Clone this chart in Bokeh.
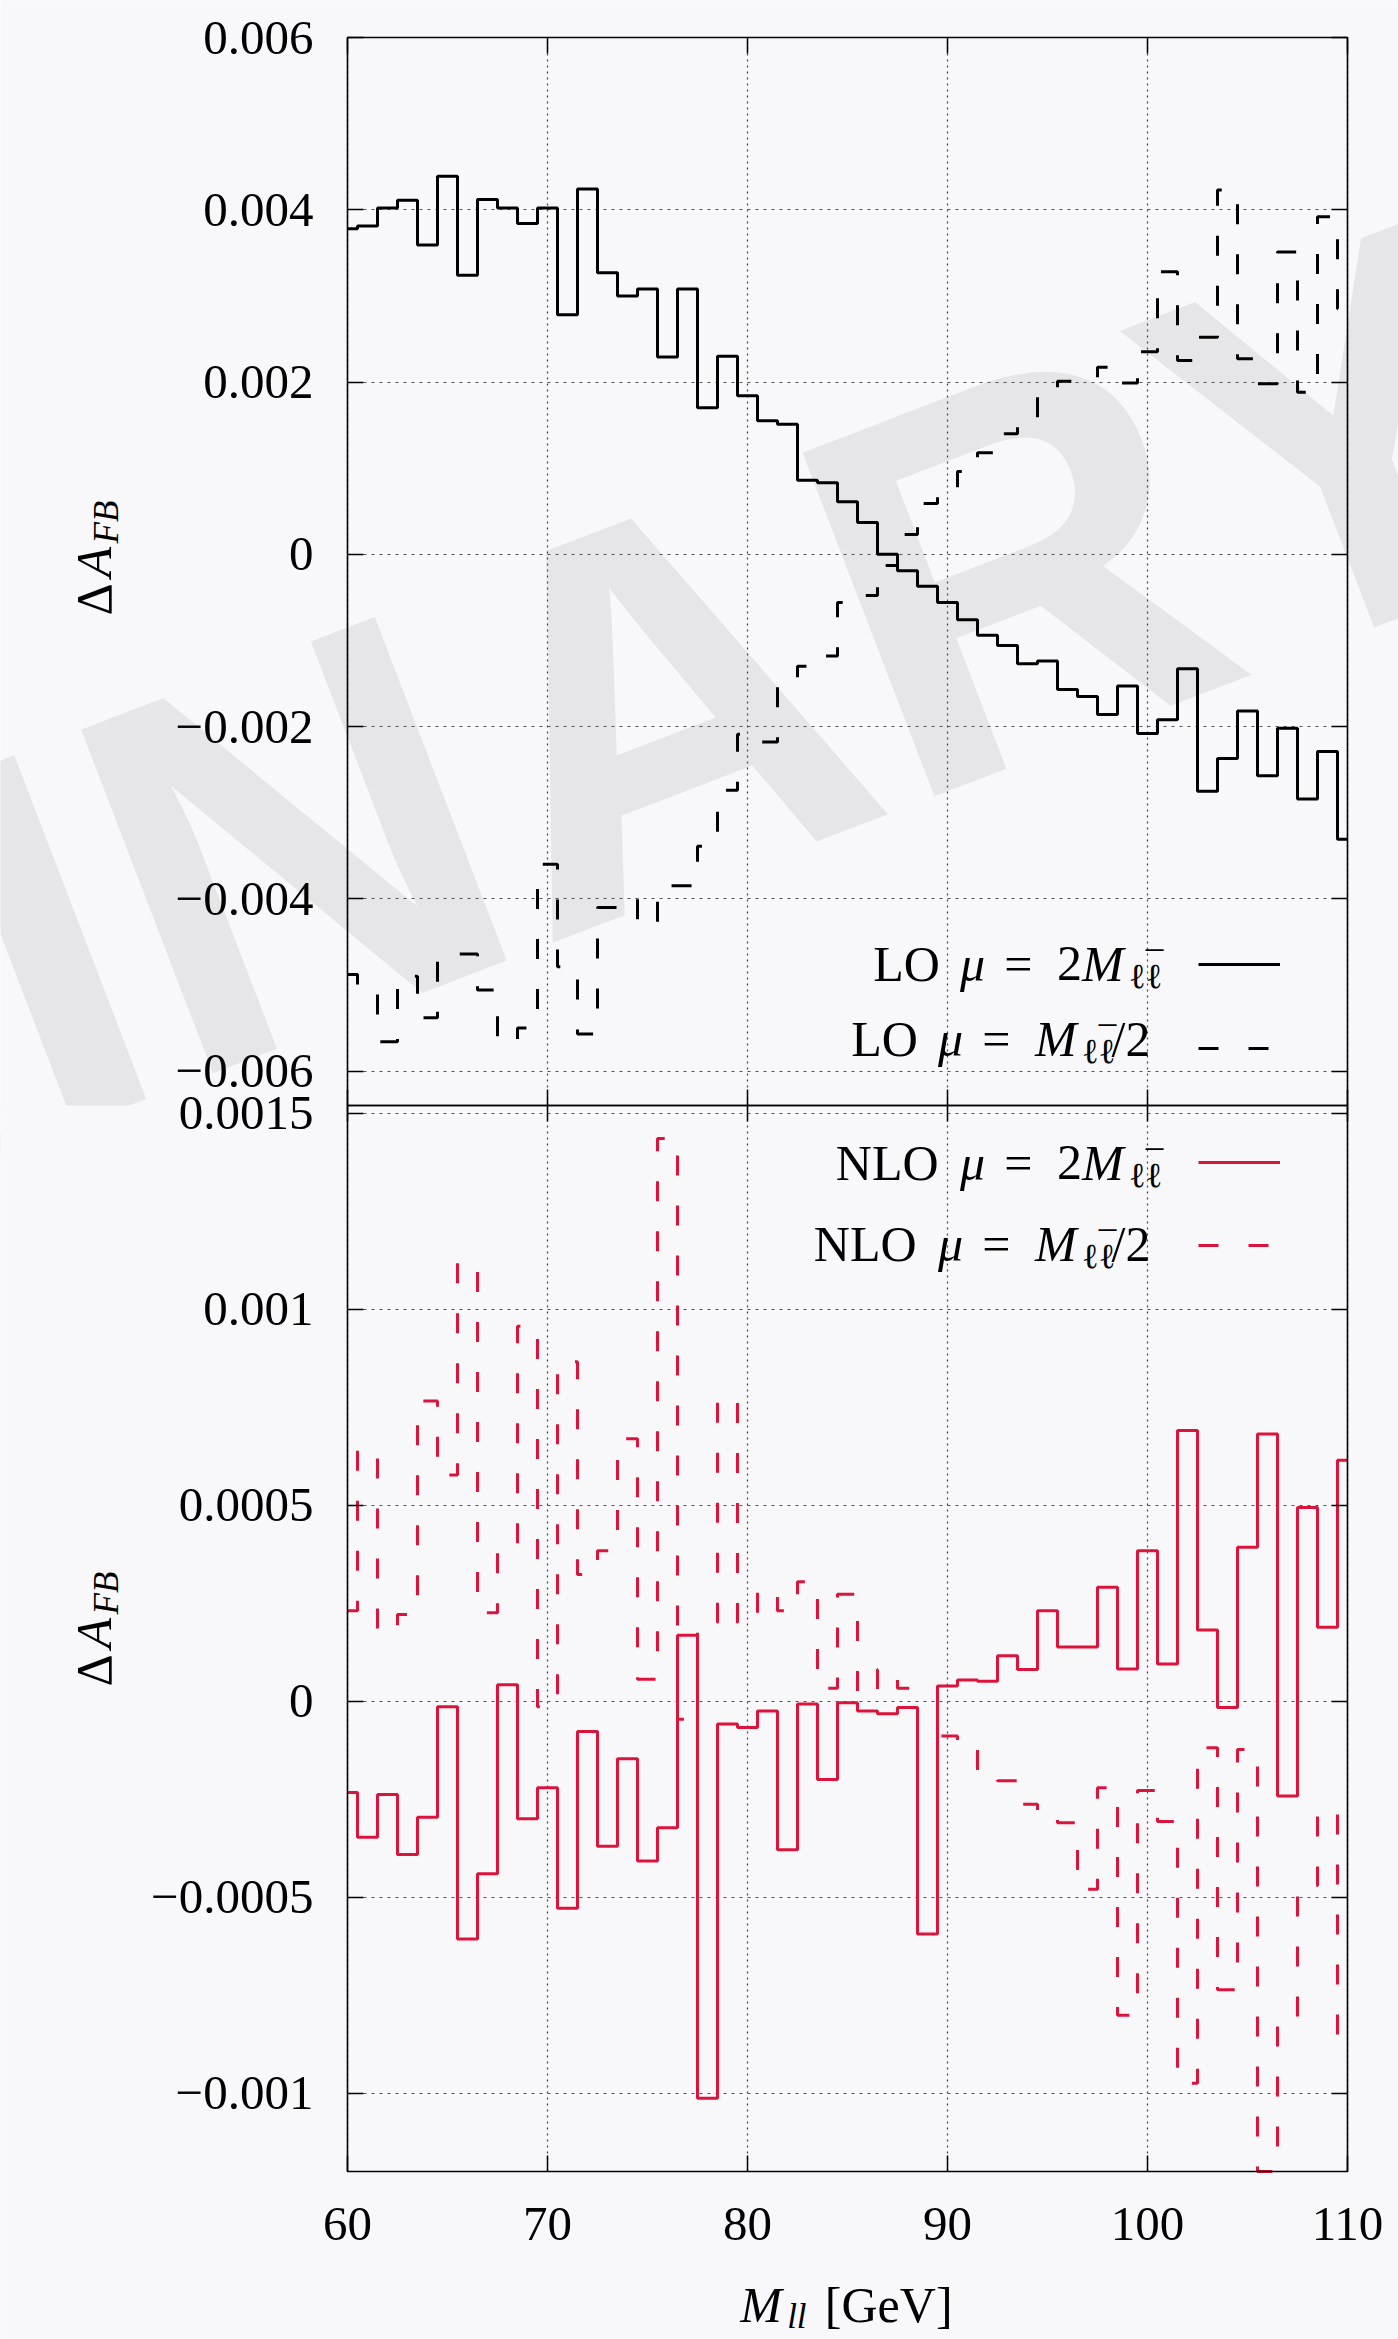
import math

from bokeh.plotting import figure
from bokeh.models import (Range1d, LinearAxis, FixedTicker, CustomJSTickFormatter,
                          CustomLabelingPolicy, BoxAnnotation, Label, Legend, LegendItem)
from bokeh.embed import file_html
from bokeh.resources import INLINE

# dilepton invariant mass points (GeV), one per histogram step
mll = list(range(60, 111))

# LO forward-backward asymmetry shift, scale mu = 2 M_ll
lo_mu2m = [0.00378, 0.00381, 0.00402, 0.00411, 0.00359, 0.00439, 0.00324, 0.00412, 0.00402, 0.00384,
           0.00402, 0.00278, 0.00424, 0.00327, 0.00300, 0.00308, 0.00229, 0.00308, 0.00170, 0.00230,
           0.00184, 0.00155, 0.00151, 0.00086, 0.00083, 0.00061, 0.00037, 0.00000, -0.00019, -0.00037,
           -0.00056, -0.00076, -0.00094, -0.00106, -0.00127, -0.00124, -0.00157, -0.00165, -0.00186, -0.00153,
           -0.00208, -0.00192, -0.00133, -0.00275, -0.00237, -0.00182, -0.00257, -0.00202, -0.00284, -0.00229,
           -0.00331]

# LO, scale mu = M_ll / 2
lo_muhalf = [-0.00488, -0.00507, -0.00566, -0.00490, -0.00538, -0.00464, -0.00464, -0.00506, -0.00567, -0.00550,
             -0.00360, -0.00479, -0.00557, -0.00410, -0.00400, -0.00431, -0.00385, -0.00385, -0.00339, -0.00274,
             -0.00209, -0.00218, -0.00143, -0.00130, -0.00118, -0.00056, -0.00048, -0.00013, 0.00023, 0.00059,
             0.00073, 0.00096, 0.00118, 0.00140, 0.00156, 0.00183, 0.00201, 0.00204, 0.00217, 0.00199,
             0.00235, 0.00328, 0.00225, 0.00252, 0.00423, 0.00227, 0.00198, 0.00351, 0.00188, 0.00392,
             0.00285]

# NLO, scale mu = 2 M_ll
nlo_mu2m = [-0.000233, -0.000347, -0.000238, -0.000391, -0.000296, -0.000014, -0.000607, -0.000440, 0.000042, -0.000300,
            -0.000221, -0.000528, -0.000077, -0.000370, -0.000147, -0.000408, -0.000323, 0.000168, -0.001013, -0.000058,
            -0.000067, -0.000025, -0.000379, -0.000007, -0.000200, -0.000004, -0.000025, -0.000032, -0.000016, -0.000594,
            0.000039, 0.000054, 0.000051, 0.000116, 0.000081, 0.000231, 0.000138, 0.000138, 0.000291, 0.000082,
            0.000384, 0.000095, 0.000691, 0.000182, -0.000016, 0.000393, 0.000682, -0.000242, 0.000494, 0.000189,
            0.000615]

# NLO, scale mu = M_ll / 2 (the 106 GeV point sits at the bottom edge of the range)
nlo_muhalf = [0.000231, 0.000642, 0.000177, 0.000221, 0.000766, 0.000577, 0.001119, 0.000226, 0.000391, 0.000957,
              -0.000014, 0.000866, 0.000323, 0.000384, 0.000670, 0.000056, 0.001436, -0.000046, 0.000200, 0.000774,
              0.000200, 0.000284, 0.000231, 0.000305, 0.000033, 0.000273, 0.000016, 0.000081, 0.000033, -0.000077,
              -0.000089, -0.000116, -0.000189, -0.000203, -0.000263, -0.000290, -0.000310, -0.000480, -0.000221, -0.000801,
              -0.000228, -0.000307, -0.000975, -0.000119, -0.000736, -0.000123, -0.001200, -0.000822, -0.000470, -0.000279,
              -0.000875]

x_ticks = [60, 70, 80, 90, 100, 110]
top_ticks = [-0.006, -0.004, -0.002, 0.0, 0.002, 0.004, 0.006]
bot_ticks = [-0.001, -0.0005, 0.0, 0.0005, 0.001, 0.0015]

SERIF = "Liberation Serif"
BG = "#f8f7fa"
RED = "#dc143c"
LW = 3.0
DASH = "20 30"
TICK = 16  # inward tick length, px

# page geometry: one canvas for the whole page; the two boxed panels sit
# inside it, each with its own y scale, drawn with axes at fixed locations
PAGE_W, PAGE_H = 1398, 2339
BOX_L, BOX_W = 347, 1000
PX_PER_GEV = BOX_W / 50.0
X_CANVAS = (60 - BOX_L / PX_PER_GEV, 60 + (PAGE_W - BOX_L) / PX_PER_GEV)

SPLIT = 1105                        # page y where the two boxes meet
TOP_BOX = (-0.0064, 0.006)          # upper box: page y 37 .. 1105
TOP_BOX_H = SPLIT - 37
TOP_K = (TOP_BOX[1] - TOP_BOX[0]) / TOP_BOX_H
TOP_CANVAS = (TOP_BOX[0] - (PAGE_H - SPLIT) * TOP_K, TOP_BOX[1] + 37 * TOP_K)

BOT_BOX = (-0.0012, 0.00152)        # lower box: page y 1105 .. 2171
BOT_BOX_H = 2171 - SPLIT
BOT_K = (BOT_BOX[1] - BOT_BOX[0]) / BOT_BOX_H
BOT_CANVAS = (BOT_BOX[0] - (PAGE_H - 2171) * BOT_K, BOT_BOX[1] + SPLIT * BOT_K)


def conv(px, py):
    """page pixel -> (x, y) in the default (upper panel) data space"""
    return X_CANVAS[0] + px / PX_PER_GEV, TOP_CANVAS[1] - py * TOP_K


y_fmt = CustomJSTickFormatter(code="""
const a = Math.abs(tick);
if (a < 1e-12) { return "0"; }
const s = parseFloat(a.toFixed(6)).toString();
return (tick < 0 ? "\\u2212" : "") + s;
""")

# tick-only guides carry no labels
no_labels = CustomLabelingPolicy(code="for (const i of indices) { indices.unset(i) }")

p = figure(width=PAGE_W, height=PAGE_H, title=None,
           x_range=Range1d(*X_CANVAS), y_range=Range1d(*TOP_CANVAS),
           extra_y_ranges={"nlo": Range1d(*BOT_CANVAS)},
           x_axis_location=None, y_axis_location=None,
           toolbar_location=None, output_backend="svg", min_border=0,
           background_fill_color=BG, border_fill_color=BG, outline_line_color=None)
p.grid.visible = False


def guide(side, ticks, loc, bounds, length, rng="default", color="black", dash="solid",
          width=1.5, level="guide", labelled=False, standoff=0, formatter=None):
    ax = LinearAxis(ticker=FixedTicker(ticks=ticks), fixed_location=loc, bounds=bounds,
                    y_range_name=rng, axis_line_color=None, major_tick_in=length,
                    major_tick_out=0, minor_tick_line_color=None,
                    major_tick_line_color=color, major_tick_line_dash=dash,
                    major_tick_line_width=width, level=level)
    if labelled:
        if formatter is not None:
            ax.formatter = formatter
        ax.major_label_standoff = standoff
        ax.major_label_text_font = SERIF
        ax.major_label_text_font_size = "49px"
        ax.major_label_text_color = "black"
    else:
        ax.major_label_policy = no_labels
    p.add_layout(ax, side)


def panel_frame(box_y, box_h, yticks, rng, x_labels):
    y0, y1 = box_y
    # dotted grid lines: ticks that span the whole box
    guide("left", yticks, 60, box_y, BOX_W, rng, "#555555", "3 5", 1.0, "underlay")
    guide("below", x_ticks, y0, (60, 110), box_h, rng, "#444444", "2 4", 1.2, "underlay")
    # short inward ticks on all four sides
    guide("left", yticks, 60, box_y, TICK, rng, labelled=True, standoff=34, formatter=y_fmt)
    guide("right", yticks, 110, box_y, TICK, rng)
    guide("above", x_ticks, y1, (60, 110), TICK, rng)
    guide("below", x_ticks, y0, (60, 110), TICK, rng, labelled=x_labels, standoff=36)
    p.add_layout(BoxAnnotation(left=60, right=110, bottom=y0, top=y1, y_range_name=rng,
                               fill_color=None, fill_alpha=0, line_color="black",
                               line_alpha=1.0, line_width=1.6))


def put_text(px, py, text, size, style="normal", angle=0.0, align="left"):
    x, y = conv(px, py)
    p.add_layout(Label(x=x, y=y, text=text, text_font=SERIF, text_font_size=f"{size}px",
                       text_font_style=style, text_color="black", text_align=align,
                       text_baseline="middle", angle=angle))


MID = 0.3375  # height of the text middle above the baseline, in em


def put_runs(anchor_px, base_py, runs, align="right"):
    """lay out (text, size, style, advance, drop) runs on one baseline;
    returns the left x of every run"""
    total = sum(r[3] for r in runs)
    x = anchor_px - total if align == "right" else anchor_px - total / 2
    starts = []
    for text, size, style, adv, drop in runs:
        starts.append(x)
        put_text(x, base_py + drop - MID * size, text, size, style)
        x += adv
    return starts


def put_vruns(base_px, start_py, runs):
    y = start_py
    for text, size, style, adv, drop in runs:
        put_text(base_px + drop - MID * size, y, text, size, style, angle=math.pi / 2)
        y -= adv


SUB = 35        # subscript size, px
SUB_DROP = 8    # subscript baseline drop, px
ELL_W = 15      # advance of one script l at subscript size


def legend_text(anchor_px, base_py, lead, with_two):
    """'<lead> mu = [2]M_{l lbar}[/2]', right-aligned on anchor_px"""
    runs = [(lead, 50, "normal", 86.8 if lead == "LO" else 124.3, 0),
            ("\u03bc", 50, "italic", 44.1, 0), ("=", 50, "normal", 52.8, 0)]
    if with_two:
        runs.append(("2", 50, "normal", 25, 0))
    runs += [("M", 50, "italic", 47, 0), ("\u2113\u2113", SUB, "normal", 29.5, SUB_DROP)]
    if not with_two:
        runs.append(("/2", 50, "normal", 50, 0))
    starts = put_runs(anchor_px, base_py, runs)
    # bar over the second script l
    sub_x = starts[len(runs) - (1 if with_two else 2)]
    put_text(sub_x + 1.5 * ELL_W + 3, base_py + SUB_DROP - MID * SUB - 11, "\u00af", SUB,
             align="center")


def add_key(solid, dashed, bottom_py, spacing):
    leg = Legend(items=[LegendItem(label=" ", renderers=[solid]),
                        LegendItem(label=" ", renderers=[dashed])],
                 location=(1198, PAGE_H - bottom_py), glyph_width=82, glyph_height=20,
                 label_height=20, label_width=1, label_standoff=0, label_text_font_size="1px",
                 spacing=spacing, padding=0, margin=0,
                 border_line_color=None, background_fill_alpha=0)
    p.add_layout(leg)


# ---------------- watermark behind the upper panel ----------------
WM_SIZE, WM_ANGLE = 535, math.radians(21)
wx, wy = conv(-1913, 1690)
p.add_layout(Label(x=wx, y=wy, text="PRELIMINARY", text_font="Liberation Sans",
                   text_font_style="bold", text_font_size=f"{WM_SIZE}px", text_color="#e6e6e8",
                   angle=WM_ANGLE, text_align="left", text_baseline="middle", level="image"))
# the watermark belongs to the upper panel only
p.add_layout(BoxAnnotation(left=X_CANVAS[0], right=X_CANVAS[1], bottom=TOP_CANVAS[0],
                           top=TOP_BOX[0], fill_color=BG, fill_alpha=1.0, line_color=None,
                           level="image"))

# ---------------- upper panel: LO ----------------
panel_frame(TOP_BOX, TOP_BOX_H, top_ticks, "default", False)
r1 = p.step(mll, lo_mu2m, mode="center", line_color="black", line_width=LW)
r2 = p.step(mll, lo_muhalf, mode="center", line_color="black", line_width=LW, line_dash=DASH)
add_key(r1, r2, 1058, 64)

legend_text(1158, 980, "LO", True)
legend_text(1161, 1055, "LO", False)
put_vruns(110, 615, [
    ("\u0394", 50, "normal", 38, 0), ("A", 50, "italic", 34, 0), ("FB", SUB, "italic", 46, SUB_DROP)])

# ---------------- lower panel: NLO ----------------
panel_frame(BOT_BOX, BOT_BOX_H, bot_ticks, "nlo", True)
r3 = p.step(mll, nlo_mu2m, mode="center", line_color=RED, line_width=LW, y_range_name="nlo")
r4 = p.step(mll, nlo_muhalf, mode="center", line_color=RED, line_width=LW, line_dash=DASH,
            y_range_name="nlo")
add_key(r3, r4, 1255, 63)

legend_text(1158, 1179, "NLO", True)
legend_text(1161, 1260, "NLO", False)
put_vruns(110, 1686, [
    ("\u0394", 50, "normal", 38, 0), ("A", 50, "italic", 34, 0), ("FB", SUB, "italic", 46, SUB_DROP)])
put_runs(845, 2321, [
    ("M", 50, "italic", 47, 0), ("ll", SUB, "italic", 37.7, 7), ("[GeV]", 50, "normal", 126, 0)],
    align="center")

open("out.html", "w").write(file_html(p, INLINE))
